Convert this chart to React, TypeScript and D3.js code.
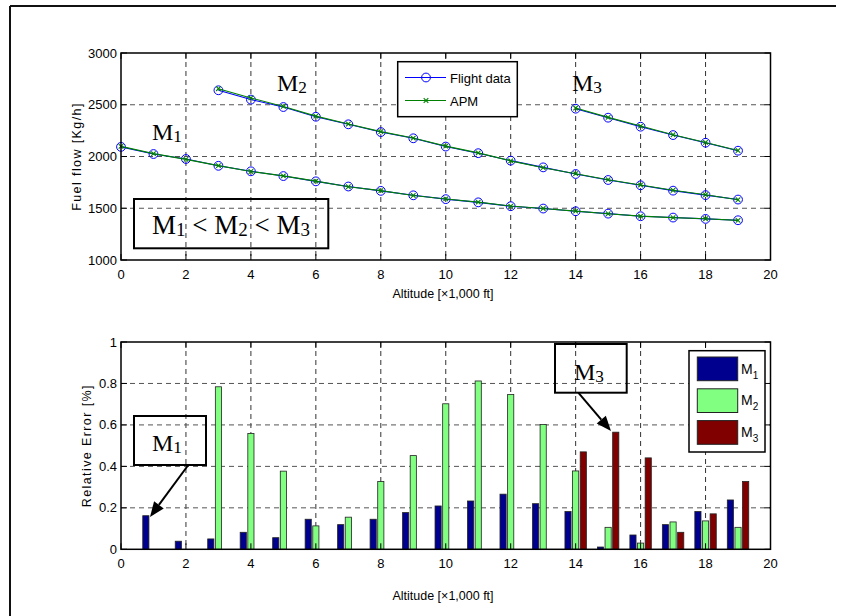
import React from "react";
import * as d3 from "d3";

// ---------- data ----------
const altM1 = [0, 1, 2, 3, 4, 5, 6, 7, 8, 9, 10, 11, 12, 13, 14, 15, 16, 17, 18, 19];
const flightM1 = [2093, 2024, 1976, 1910, 1857, 1811, 1760, 1710, 1668, 1625, 1588, 1557, 1520, 1497, 1471, 1448, 1423, 1410, 1397, 1384];
const apmM1 = [2098, 2028, 1972, 1912, 1855, 1813, 1762, 1708, 1670, 1623, 1590, 1559, 1521, 1498, 1472, 1447, 1424, 1409, 1398, 1383];

const altM2 = [3, 4, 5, 6, 7, 8, 9, 10, 11, 12, 13, 14, 15, 16, 17, 18, 19];
const flightM2 = [2640, 2550, 2478, 2384, 2311, 2236, 2176, 2096, 2032, 1960, 1895, 1831, 1773, 1722, 1670, 1627, 1584];
const apmM2 = [2655, 2566, 2484, 2390, 2314, 2240, 2178, 2100, 2035, 1958, 1892, 1834, 1776, 1725, 1674, 1630, 1582];

const altM3 = [14, 15, 16, 17, 18, 19];
const flightM3 = [2462, 2375, 2288, 2207, 2133, 2056];
const apmM3 = [2468, 2378, 2294, 2210, 2136, 2058];

const barAlt = [1, 2, 3, 4, 5, 6, 7, 8, 9, 10, 11, 12, 13, 14, 15, 16, 17, 18, 19];
const errM1 = [0.162, 0.039, 0.05, 0.082, 0.056, 0.145, 0.119, 0.145, 0.177, 0.209, 0.233, 0.266, 0.22, 0.182, 0.011, 0.069, 0.119, 0.182, 0.238];
const errM2 = [0, 0, 0.784, 0.559, 0.377, 0.113, 0.155, 0.327, 0.452, 0.702, 0.812, 0.747, 0.602, 0.378, 0.106, 0.03, 0.132, 0.137, 0.106];
const errM3 = [0, 0, 0, 0, 0, 0, 0, 0, 0, 0, 0, 0, 0, 0.47, 0.565, 0.441, 0.082, 0.171, 0.327];

const xTicks = [0, 2, 4, 6, 8, 10, 12, 14, 16, 18, 20];
const yTicksTop = [1000, 1500, 2000, 2500, 3000];
const yTicksBot = [0, 0.2, 0.4, 0.6, 0.8, 1];
const yTickLabelsBot = ["0", "0.2", "0.4", "0.6", "0.8", "1"];

const seriesNames = ["1", "2", "3"];
const barColors = ["#00008f", "#80ff80", "#800000"];

// ---------- layout ----------
const L = 121, R = 770.5;
const topT = 53, topB = 260;
const botT = 342, botB = 549.3;

const xTop = d3.scaleLinear().domain([0, 20]).range([L, R]);
const yTop = d3.scaleLinear().domain([1000, 3000]).range([topB, topT]);
const xBot = d3.scaleLinear().domain([0, 20]).range([L, R]);
const yBot = d3.scaleLinear().domain([0, 1]).range([botB, botT]);

const sans = "'Liberation Sans', Arial, sans-serif";
const serif = "'Liberation Serif', 'Times New Roman', serif";

function Grid({ x, y, yTicks, top, bottom }: any) {
  return (
    <g>
      {xTicks.slice(1, -1).map((t) => (
        <line key={"gx" + t} x1={x(t)} x2={x(t)} y1={top} y2={bottom} stroke="#333" strokeWidth={1} strokeDasharray="5,4" />
      ))}
      {yTicks.slice(1, -1).map((t: number) => (
        <line key={"gy" + t} x1={L} x2={R} y1={y(t)} y2={y(t)} stroke="#555" strokeWidth={1} strokeDasharray="5,4" />
      ))}
    </g>
  );
}

function Frame({ x, y, yTicks, yLabels, top, bottom, xLabel, yLabel, yLabelX, xLabelY }: any) {
  const tl = 6;
  return (
    <g>
      <rect x={L} y={top} width={R - L} height={bottom - top} fill="none" stroke="#000" strokeWidth={1.5} />
      {xTicks.map((t) => (
        <g key={"tx" + t}>
          <line x1={x(t)} x2={x(t)} y1={bottom} y2={bottom - tl} stroke="#000" strokeWidth={1} />
          <line x1={x(t)} x2={x(t)} y1={top} y2={top + tl} stroke="#000" strokeWidth={1} />
          <text x={x(t)} y={bottom + 19} textAnchor="middle" fontFamily={sans} fontSize={13}>{t}</text>
        </g>
      ))}
      {yTicks.map((t: number, i: number) => (
        <g key={"ty" + t}>
          <line x1={L} x2={L + tl} y1={y(t)} y2={y(t)} stroke="#000" strokeWidth={1} />
          <line x1={R} x2={R - tl} y1={y(t)} y2={y(t)} stroke="#000" strokeWidth={1} />
          <text x={L - 4} y={y(t) + 4.5} textAnchor="end" fontFamily={sans} fontSize={13}>{yLabels[i]}</text>
        </g>
      ))}
      <text x={443} y={xLabelY} textAnchor="middle" fontFamily={sans} fontSize={12.5}>{xLabel}</text>
      <text transform={`translate(${yLabelX},${(top + bottom) / 2}) rotate(-90)`} textAnchor="middle" fontFamily={sans} fontSize={12.5} letterSpacing={1.4}>{yLabel}</text>
    </g>
  );
}

function MText({ x, y, n, size, anchor = "start" }: any) {
  return (
    <text x={x} y={y} fontFamily={serif} fontSize={size} textAnchor={anchor}>
      M<tspan fontSize={size * 0.72} dy={2}>{n}</tspan>
    </text>
  );
}

function Arrow({ x1, y1, x2, y2 }: any) {
  const ang = Math.atan2(y2 - y1, x2 - x1);
  const len = 15, w = 6;
  const bx = x2 - len * Math.cos(ang), by = y2 - len * Math.sin(ang);
  const px = -Math.sin(ang) * w, py = Math.cos(ang) * w;
  return (
    <g>
      <line x1={x1} y1={y1} x2={bx} y2={by} stroke="#000" strokeWidth={2} />
      <polygon points={`${x2},${y2} ${bx + px},${by + py} ${bx - px},${by - py}`} fill="#000" />
    </g>
  );
}

export default function App() {
  const line = (xs: number[], ys: number[]) =>
    d3.line<number>().x((_, i) => xTop(xs[i])).y((v) => yTop(v))(ys) || "";

  const flight = [
    [altM1, flightM1],
    [altM2, flightM2],
    [altM3, flightM3],
  ] as [number[], number[]][];
  const apm = [
    [altM1, apmM1],
    [altM2, apmM2],
    [altM3, apmM3],
  ] as [number[], number[]][];

  const barW = 0.19;
  const offsets = [-0.235, 0, 0.235];
  const errs = [errM1, errM2, errM3];

  return (
    <svg width={841} height={616} style={{ position: "absolute", left: 0, top: 0, background: "#fff" }}>
      <rect x={0} y={0} width={841} height={616} fill="#fff" />
      {/* outer frame (top and left visible) */}
      <line x1={10} y1={6} x2={836} y2={6} stroke="#111" strokeWidth={2} />
      <line x1={10} y1={6} x2={10} y2={616} stroke="#111" strokeWidth={2} />

      {/* ---------- top plot ---------- */}
      <Grid x={xTop} y={yTop} yTicks={yTicksTop} top={topT} bottom={topB} />
      {flight.map(([xs, ys], k) => (
        <g key={"f" + k}>
          <path d={line(xs, ys)} fill="none" stroke="#0000ff" strokeWidth={1.1} />
          {ys.map((v, i) => (
            <circle key={i} cx={xTop(xs[i])} cy={yTop(v)} r={4.4} fill="none" stroke="#0000ff" strokeWidth={1} />
          ))}
        </g>
      ))}
      {apm.map(([xs, ys], k) => (
        <g key={"a" + k}>
          <path d={line(xs, ys)} fill="none" stroke="#008000" strokeWidth={1.1} />
          {ys.map((v, i) => {
            const cx = xTop(xs[i]), cy = yTop(v), s = 2.3;
            return (
              <path key={i} d={`M${cx - s},${cy - s}L${cx + s},${cy + s}M${cx - s},${cy + s}L${cx + s},${cy - s}`} stroke="#008000" strokeWidth={1.1} />
            );
          })}
        </g>
      ))}
      <Frame x={xTop} y={yTop} yTicks={yTicksTop} yLabels={yTicksTop.map(String)} top={topT} bottom={topB}
        xLabel="Altitude [×1,000 ft]" yLabel="Fuel flow [Kg/h]" yLabelX={81} xLabelY={298} />

      {/* top legend */}
      <rect x={397.7} y={61.7} width={119.6} height={55} fill="#fff" stroke="#000" strokeWidth={1.5} />
      <line x1={405} x2={446} y1={77.5} y2={77.5} stroke="#0000ff" strokeWidth={1.1} />
      <circle cx={426} cy={77.5} r={4.4} fill="none" stroke="#0000ff" strokeWidth={1} />
      <text x={450} y={83} fontFamily={sans} fontSize={13}>Flight data</text>
      <line x1={405} x2={446} y1={100.5} y2={100.5} stroke="#008000" strokeWidth={1.1} />
      <path d="M423.7,98.2L428.3,102.8M423.7,102.8L428.3,98.2" stroke="#008000" strokeWidth={1.1} />
      <text x={450} y={106} fontFamily={sans} fontSize={13}>APM</text>

      {/* top annotations */}
      <MText x={152} y={140} n="1" size={24} />
      <MText x={277} y={91} n="2" size={24} />
      <MText x={572} y={91} n="3" size={24} />
      <rect x={134} y={199} width={194.3} height={49.3} fill="none" stroke="#000" strokeWidth={2} />
      <text x={231} y={234} textAnchor="middle" fontFamily={serif} fontSize={27}>
        M<tspan fontSize={19} dy={2}>1</tspan><tspan dy={-2}> &lt; M</tspan><tspan fontSize={19} dy={2}>2</tspan><tspan dy={-2}> &lt; M</tspan><tspan fontSize={19} dy={2}>3</tspan>
      </text>

      {/* ---------- bottom plot ---------- */}
      <Grid x={xBot} y={yBot} yTicks={yTicksBot} top={botT} bottom={botB} />
      {errs.map((arr, k) => (
        <g key={"b" + k}>
          {arr.map((v, i) =>
            v > 0 ? (
              <rect key={i} x={xBot(barAlt[i] + offsets[k] - barW / 2)} y={yBot(v)}
                width={xBot(barW) - xBot(0)} height={yBot(0) - yBot(v)}
                fill={barColors[k]} stroke="#222" strokeWidth={0.8} />
            ) : null
          )}
        </g>
      ))}
      <Frame x={xBot} y={yBot} yTicks={yTicksBot} yLabels={yTickLabelsBot} top={botT} bottom={botB}
        xLabel="Altitude [×1,000 ft]" yLabel="Relative Error [%]" yLabelX={91} xLabelY={600} />

      {/* bottom legend */}
      <rect x={689} y={350.7} width={76} height={101.3} fill="#fff" stroke="#000" strokeWidth={1.5} />
      {seriesNames.map((n, k) => (
        <g key={"lg" + k}>
          <rect x={697.3} y={357 + k * 31.8} width={40.4} height={23.7} fill={barColors[k]} stroke="#222" strokeWidth={1} />
          <text x={741} y={373.5 + k * 31.8} fontFamily={sans} fontSize={14}>
            M<tspan fontSize={10} dy={5}>{n}</tspan>
          </text>
        </g>
      ))}

      {/* bottom annotations */}
      <rect x={134} y={416} width={72} height={49} fill="none" stroke="#000" strokeWidth={2} />
      <MText x={152} y={451} n="1" size={24} />
      <Arrow x1={188.3} y1={465} x2={150} y2={517} />
      <rect x={555} y={344} width={71.7} height={48.7} fill="none" stroke="#000" strokeWidth={2} />
      <MText x={574} y={380} n="3" size={24} />
      <Arrow x1={578.3} y1={392.7} x2={611} y2={431} />
    </svg>
  );
}
